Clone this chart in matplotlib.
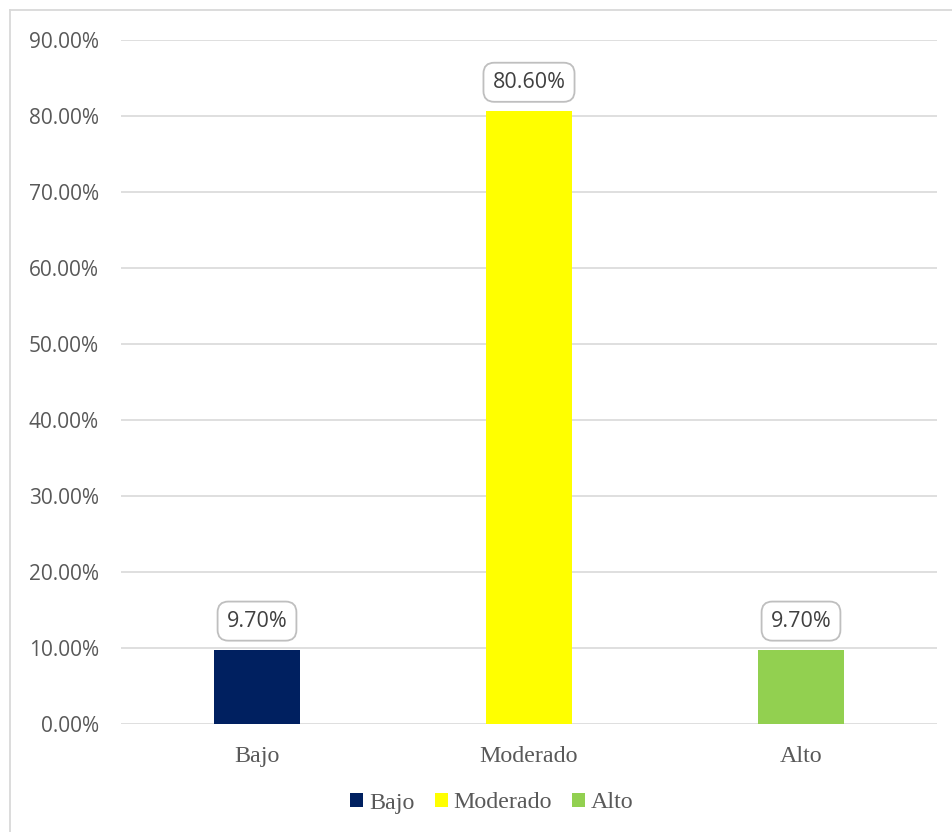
import matplotlib
matplotlib.use("Agg")
import matplotlib.pyplot as plt
from matplotlib.lines import Line2D
from matplotlib.patches import Patch
from matplotlib.ticker import FuncFormatter

categories = ["Bajo", "Moderado", "Alto"]
values = [9.70, 80.60, 9.70]
labels = ["9.70%", "80.60%", "9.70%"]
colors = ["#002060", "#FFFF00", "#92D050"]
yticks = [0, 10, 20, 30, 40, 50, 60, 70, 80, 90]

W, H = 952, 832
fig = plt.figure(figsize=(W / 100, H / 100), dpi=100)
ax = fig.add_axes([121 / W, 1 - 724 / H, (937 - 121) / W, (724 - 40) / H])

x = list(range(len(categories)))
ax.bar(x, values, width=0.316, color=colors, zorder=3)
ax.set_xlim(-0.5, 2.5)
ax.set_ylim(0, 90)
ax.set_yticks(yticks)
ax.yaxis.set_major_formatter(FuncFormatter(lambda v, p: f"{v:.2f}%"))
ax.grid(axis="y", color="#D9D9D9", linewidth=1.2, zorder=0)
for s in ax.spines.values():
    s.set_visible(False)
ax.tick_params(axis="both", length=0)
ax.tick_params(axis="y", pad=16, labelsize=15, labelcolor="#595959")
for t in ax.get_yticklabels():
    t.set_fontfamily("Open Sans")
ax.set_xticks(x)
ax.set_xticklabels(categories, fontfamily="Liberation Serif", fontsize=17.3, color="#595959")
ax.tick_params(axis="x", pad=16)

for xi, v, lab in zip(x, values, labels):
    ax.annotate(lab, (xi, v), xytext=(0, 21), textcoords="offset points",
                ha="center", va="center", fontfamily="Open Sans", fontsize=15.5,
                color="#404040", zorder=5,
                bbox=dict(boxstyle="round,pad=0.42,rounding_size=0.5",
                          fc="white", ec="#BFBFBF", lw=1.3))

handles = [Patch(facecolor=c, edgecolor="none") for c in colors]
fig.legend(handles, categories, loc="center", bbox_to_anchor=(492 / W, 1 - 803 / H),
           ncol=3, frameon=False, handlelength=0.54, handleheight=0.54,
           handletextpad=0.25, columnspacing=0.83,
           prop={"family": "Liberation Serif", "size": 17.3}, labelcolor="#595959")

fig.add_artist(Line2D([10 / W, 10 / W], [0, 1 - 10 / H], transform=fig.transFigure,
                      color="#D9D9D9", lw=1.3))
fig.add_artist(Line2D([10 / W, 1], [1 - 10 / H, 1 - 10 / H], transform=fig.transFigure,
                      color="#D9D9D9", lw=1.3))

fig.savefig("out.png", dpi=100, facecolor="white")
